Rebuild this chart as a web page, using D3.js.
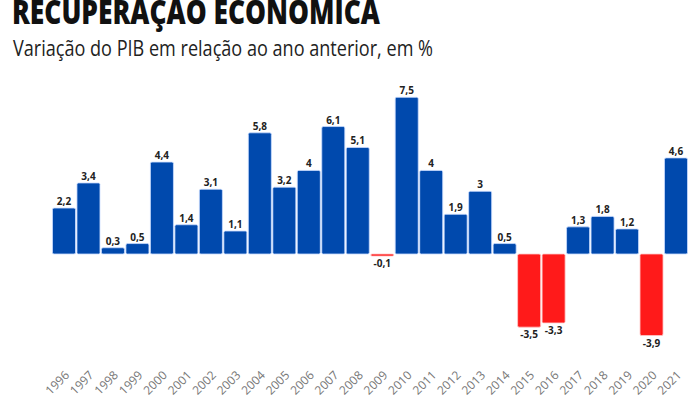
<!DOCTYPE html>
<html><head><meta charset="utf-8">
<script src="https://cdn.jsdelivr.net/npm/d3@7/dist/d3.min.js"></script>
<style>body{margin:0;background:#fff}svg{display:block}</style>
</head><body><svg id="c" width="700" height="400"></svg>
<script>
const years = ["1996","1997","1998","1999","2000","2001","2002","2003","2004","2005","2006","2007","2008","2009","2010","2011","2012","2013","2014","2015","2016","2017","2018","2019","2020","2021"];
const values = [2.2,3.4,0.3,0.5,4.4,1.4,3.1,1.1,5.8,3.2,4,6.1,5.1,-0.1,7.5,4,1.9,3,0.5,-3.5,-3.3,1.3,1.8,1.2,-3.9,4.6];
const title = "RECUPERAÇÃO ECONÔMICA";
const subtitle = "Variação do PIB em relação ao ano anterior, em %";

const svg = d3.select("#c");
const x = d3.scaleBand().domain(years).range([52, 688]).paddingInner(0.06).paddingOuter(0.02);
const y = d3.scaleLinear().domain([-3.9, 7.5]).range([335.5, 97.3]);
const fmt = v => String(v).replace(".", ",");

svg.append("text").attr("x", 12).attr("y", 24)
  .attr("font-family", "Open Sans").attr("font-weight", 800).attr("font-size", 33)
  .attr("fill", "#111").attr("textLength", 368).attr("lengthAdjust", "spacingAndGlyphs")
  .text(title);
svg.append("text").attr("x", 13).attr("y", 56)
  .attr("font-family", "Open Sans").attr("font-size", 22)
  .attr("fill", "#222").attr("textLength", 420).attr("lengthAdjust", "spacingAndGlyphs")
  .text(subtitle);

const data = years.map((yr, i) => ({yr, v: values[i]}));

svg.append("g").selectAll("rect").data(data).join("rect")
  .attr("x", d => x(d.yr))
  .attr("width", x.bandwidth())
  .attr("y", d => y(Math.max(0, d.v)))
  .attr("height", d => Math.max(2, Math.abs(y(d.v) - y(0))))
  .attr("rx", 1.5)
  .attr("fill", d => d.v < 0 ? "#ff1a1a" : "#0049ad")
  .attr("stroke", d => d.v < 0 ? "#ffc9c9" : "#c9dcff")
  .attr("stroke-width", 0.8);

svg.append("g").selectAll("text").data(data).join("text")
  .attr("x", d => x(d.yr) + x.bandwidth() / 2)
  .attr("y", d => d.v >= 0 ? y(d.v) - 3 : Math.max(y(d.v), y(0) + 2) + 11)
  .attr("text-anchor", "middle")
  .attr("font-family", "Open Sans").attr("font-weight", 700).attr("font-size", 10)
  .attr("fill", "#222")
  .text(d => fmt(d.v));

const xAxis = svg.append("g");
xAxis.selectAll("text").data(years).join("text")
  .attr("transform", d => `translate(${x(d) + x.bandwidth() / 2 + 6},376) rotate(-45)`)
  .attr("text-anchor", "end")
  .attr("font-family", "Open Sans").attr("font-size", 12)
  .attr("fill", "#777")
  .text(d => d);
</script></body></html>
